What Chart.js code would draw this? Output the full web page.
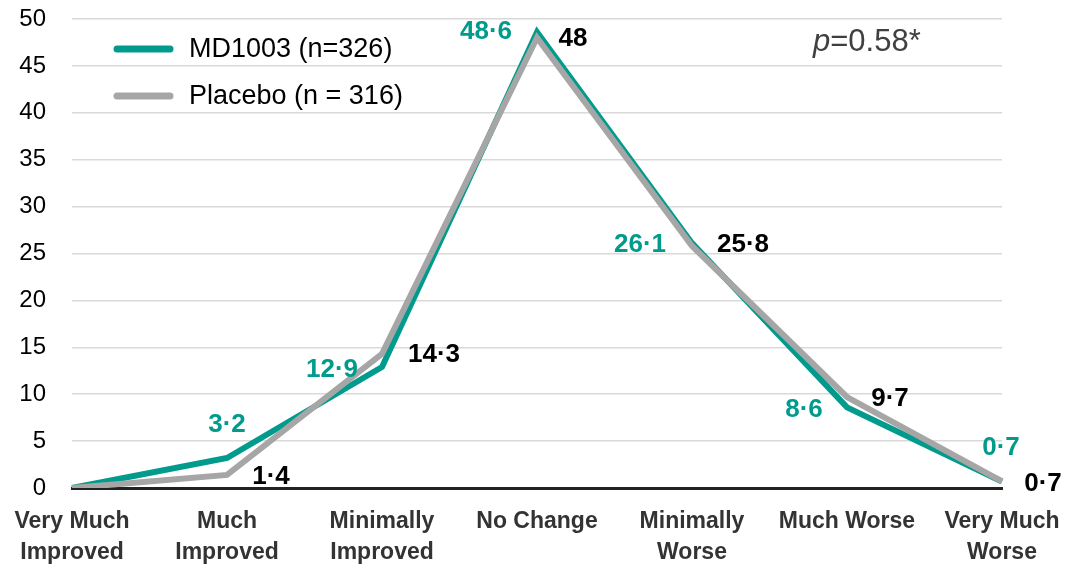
<!DOCTYPE html>
<html>
<head>
<meta charset="utf-8">
<script src="https://cdn.jsdelivr.net/npm/chart.js@4/dist/chart.umd.min.js"></script>
<style>
  html, body { margin: 0; padding: 0; background: #fff; }
  #wrap { width: 1069px; height: 567px; position: relative; }
</style>
</head>
<body>
<div id="wrap"><canvas id="chart"></canvas></div>
<script>
const categories = [
  ["Very Much", "Improved"],
  ["Much", "Improved"],
  ["Minimally", "Improved"],
  "No Change",
  ["Minimally", "Worse"],
  "Much Worse",
  ["Very Much", "Worse"],
];
const md1003Values = [0, 3.2, 12.9, 48.6, 26.1, 8.6, 0.7];
const placeboValues = [0, 1.4, 14.3, 48, 25.8, 9.7, 0.7];
const md1003Labels = ["", "3·2", "12·9", "48·6", "26·1", "8·6", "0·7"];
const placeboLabels = ["", "1·4", "14·3", "48", "25·8", "9·7", "0·7"];
const seriesNames = ["MD1003 (n=326)", "Placebo (n = 316)"];
const pText = "0.58*";

const TEAL = "#009B8D";
const GREY = "#A6A6A6";
const FONT = "Arial, 'Liberation Sans', sans-serif";

// label offsets from the data point: [dx, dy]
const tealOffsets = [null, [0, -33], [-50, 3], [-51, 0], [-52, 2], [-43, 2], [-1, -34]];
const greyOffsets = [null, [44, 2], [52, 1], [36, 1], [51, -1], [43, 2], [41, 2]];

const labelPlugin = {
  id: "labels",
  afterDatasetsDraw(chart) {
    const ctx = chart.ctx;
    const x = chart.scales.x, y = chart.scales.y;
    ctx.save();
    ctx.textBaseline = "middle";
    ctx.textAlign = "center";
    ctx.font = "bold 26px " + FONT;
    md1003Values.forEach((v, i) => {
      const o = tealOffsets[i];
      if (!o) return;
      ctx.fillStyle = TEAL;
      ctx.fillText(md1003Labels[i], x.getPixelForValue(i) + o[0], y.getPixelForValue(v) + o[1]);
    });
    placeboValues.forEach((v, i) => {
      const o = greyOffsets[i];
      if (!o) return;
      ctx.fillStyle = "#000";
      ctx.fillText(placeboLabels[i], x.getPixelForValue(i) + o[0], y.getPixelForValue(v) + o[1]);
    });

    // legend
    ctx.lineCap = "round";
    ctx.lineWidth = 7;
    [TEAL, GREY].forEach((c, i) => {
      const ly = 49 + i * 47;
      ctx.strokeStyle = c;
      ctx.beginPath();
      ctx.moveTo(117, ly);
      ctx.lineTo(170, ly);
      ctx.stroke();
      ctx.fillStyle = "#000";
      ctx.textAlign = "left";
      ctx.font = "27px " + FONT;
      ctx.fillText(seriesNames[i], 189, ly + 1);
    });

    // p value
    ctx.fillStyle = "#404040";
    ctx.font = "italic 31px " + FONT;
    ctx.textAlign = "left";
    ctx.fillText("p", 813, 42);
    const pw = ctx.measureText("p").width;
    ctx.font = "31px " + FONT;
    ctx.fillText("=" + pText, 813 + pw, 42);
    ctx.restore();
  },
};

new Chart(document.getElementById("chart"), {
  type: "line",
  data: {
    labels: categories,
    datasets: [
      {
        label: seriesNames[0],
        data: md1003Values,
        borderColor: TEAL,
        borderWidth: 6,
        pointRadius: 0,
        tension: 0,
        order: 2,
      },
      {
        label: seriesNames[1],
        data: placeboValues,
        borderColor: GREY,
        borderWidth: 6,
        pointRadius: 0,
        tension: 0,
        order: 1,
      },
    ],
  },
  options: {
    responsive: true,
    maintainAspectRatio: false,
    animation: false,
    layout: { padding: { top: 19, right: 67, left: 0, bottom: 0 } },
    plugins: { legend: { display: false }, tooltip: { enabled: false } },
    scales: {
      x: {
        offset: false,
        grid: { display: false, drawTicks: false },
        border: { color: "#222", width: 3 },
        ticks: {
          color: "#333",
          font: { family: FONT, size: 23, weight: "bold", lineHeight: 1.35 },
          padding: 18,
          maxRotation: 0,
          autoSkip: false,
        },
        afterFit(scale) {
          scale.height = 79;
          scale.paddingLeft = 0;
          scale.paddingRight = 0;
        },
      },
      y: {
        min: 0,
        max: 50,
        grid: { color: "#D9D9D9", lineWidth: 1.5, drawTicks: false },
        border: { display: false },
        ticks: {
          stepSize: 5,
          color: "#000",
          font: { family: FONT, size: 24 },
          padding: 26,
        },
        afterFit(scale) {
          scale.width = 72;
          scale.paddingTop = 0;
          scale.paddingBottom = 0;
        },
      },
    },
  },
  plugins: [labelPlugin],
});
</script>
</body>
</html>
